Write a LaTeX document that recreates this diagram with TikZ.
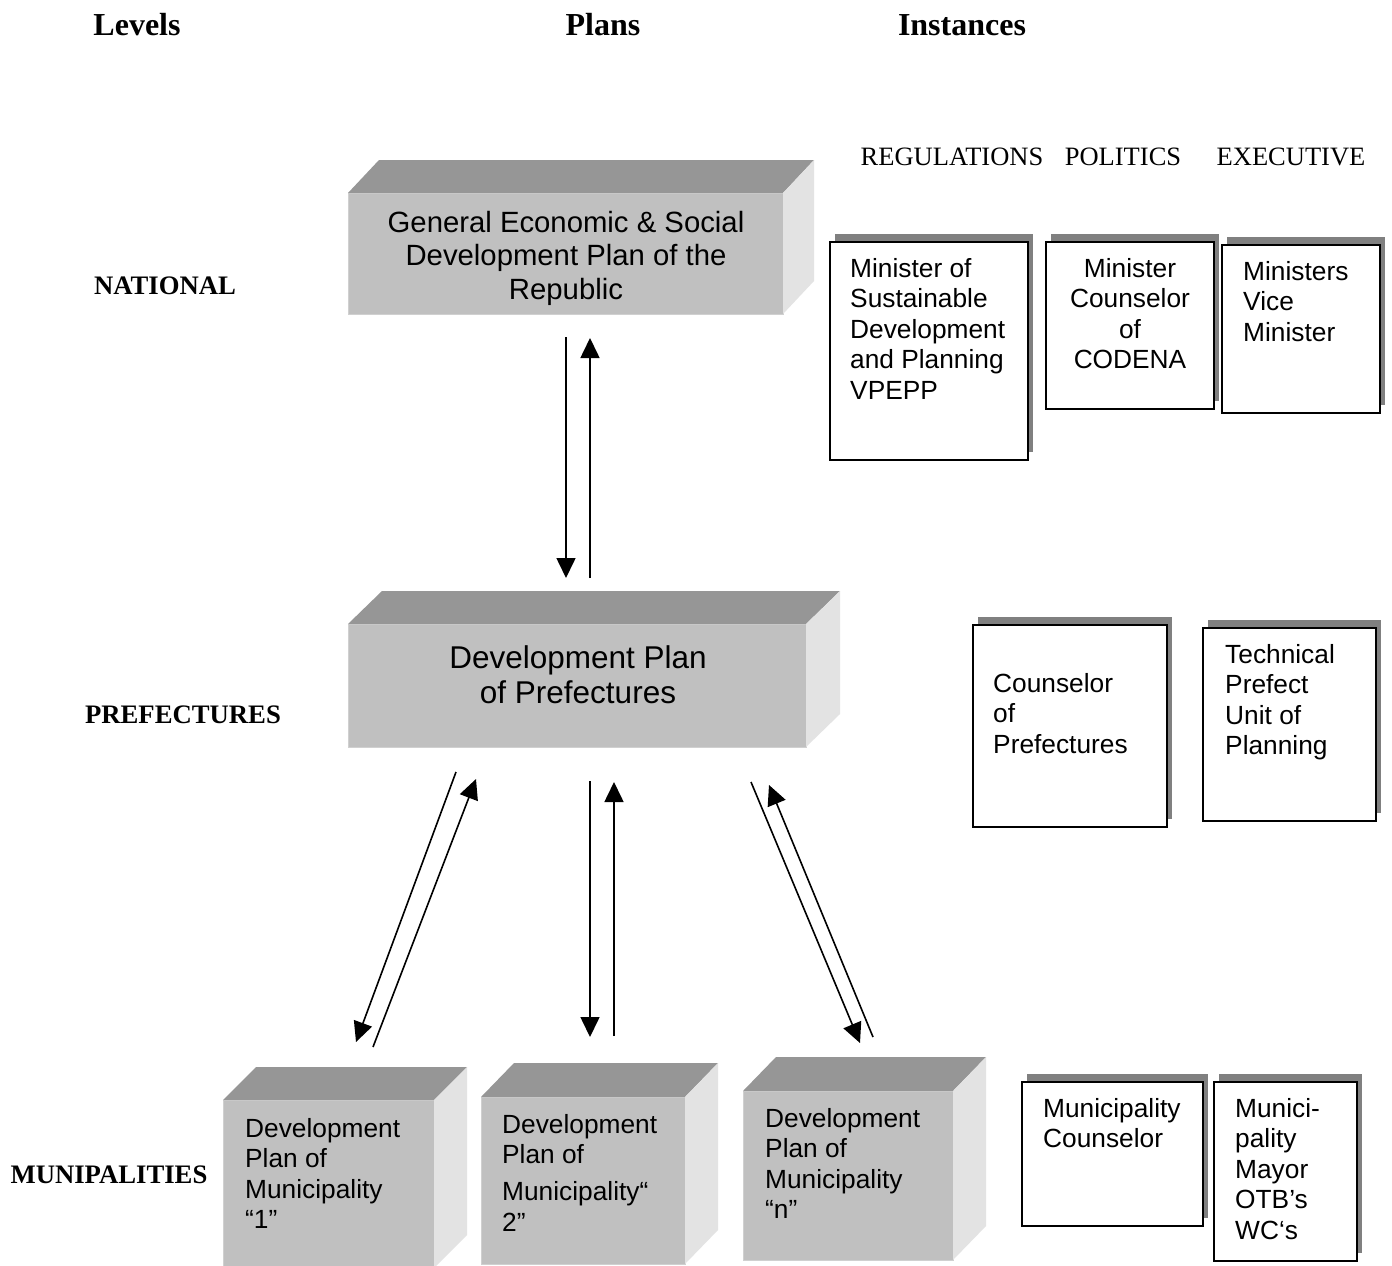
\documentclass[tikz,border=0pt]{standalone}
\usepackage{fontspec}
\setmainfont{Liberation Serif}
\newfontfamily\sansf{Liberation Sans}
\usetikzlibrary{arrows.meta,shadows}
\definecolor{frontc}{HTML}{C0C0C0}
\definecolor{topc}{HTML}{969696}
\definecolor{sidec}{HTML}{E3E3E3}
\definecolor{edgec}{HTML}{D0D0D0}
\definecolor{shadc}{HTML}{808080}
\newcommand\cubefaces[3]{%
  \fill[topface] (#1.north west) -- ++(#2,-#3) -- ([shift={(#2,-#3)}]#1.north east) -- (#1.north east) -- cycle;
  \fill[sideface] (#1.north east) -- ++(#2,-#3) -- ([shift={(#2,-#3)}]#1.south east) -- (#1.south east) -- cycle;
}
\begin{document}
\begin{tikzpicture}[x=1pt,y=-1pt,
  front/.style={fill=frontc, draw=edgec, line width=1pt, inner sep=0pt, outer sep=0pt, anchor=north west},
  topface/.style={fill=topc},
  sideface/.style={fill=sidec},
  ibox/.style={draw=black, line width=1.6pt, fill=white, inner sep=0pt, outer sep=0pt, anchor=north west,
    drop shadow={shadow xshift=5pt, shadow yshift=8pt, fill=shadc, opacity=1}},
  head/.style={font=\fontsize{32}{36}\selectfont\bfseries, anchor=base, inner sep=0pt},
  level/.style={font=\fontsize{26.7}{30}\selectfont\bfseries, anchor=base, inner sep=0pt},
  kind/.style={font=\fontsize{26.5}{30}\selectfont, anchor=base, inner sep=0pt},
  itext/.style={font=\sansf\fontsize{26.3}{30.5}\selectfont, anchor=base west, inner sep=0pt},
  ctext/.style={font=\sansf\fontsize{26.3}{30.5}\selectfont, anchor=base, inner sep=0pt},
  arr/.style={line width=1.6pt, -{Triangle[length=20pt,width=19pt]}},
]
\useasboundingbox (0,0) rectangle (1392,1266);
\fill[white] (0,0) rectangle (1392,1266);

% headers
\node[head] (hlev) at (137,35) {Levels};
\node[head] (hplan) at (603,35) {Plans};
\node[head] (hinst) at (962,35) {Instances};

\node[level] (lnat) at (165,294) {NATIONAL};
\node[level] (lpref) at (183,723) {PREFECTURES};
\node[level] (lmun) at (109,1183) {MUNIPALITIES};

\node[kind] (kreg) at (952,165) {REGULATIONS};
\node[kind] (kpol) at (1123,165) {POLITICS};
\node[kind] (kexe) at (1291,165) {EXECUTIVE};

% 3D plan boxes
\node[front, minimum width=435pt, minimum height=121pt] (nat) at (348,193) {};
\cubefaces{nat}{31}{33}
\node[anchor=base, inner sep=0pt, font=\sansf\fontsize{29.3}{33.5}\selectfont] (nattxt) at (566,232)
  {\parbox[t]{430pt}{\centering General Economic \& Social\\Development Plan of the\\Republic}};

\node[front, minimum width=458pt, minimum height=123pt] (pref) at (348,624) {};
\cubefaces{pref}{34}{33}
\node[anchor=base, inner sep=0pt, font=\sansf\fontsize{31.5}{35}\selectfont] (preftxt) at (578,668)
  {\parbox[t]{440pt}{\centering Development Plan\\of Prefectures}};

\node[front, minimum width=211pt, minimum height=168pt] (m1) at (223,1100) {};
\cubefaces{m1}{33}{33}
\node[itext] (m1txt) at (245,1137) {\parbox[t]{190pt}{\raggedright Development\\Plan of\\Municipality\\“1”}};

\node[front, minimum width=204pt, minimum height=167pt] (m2) at (481,1097) {};
\cubefaces{m2}{33}{34}
\node[itext] (m2txt) at (502,1133) {\parbox[t]{190pt}{\raggedright Development\\Plan of\\[6.5pt]Municipality“\\2”}};

\node[front, minimum width=210pt, minimum height=169pt] (m3) at (743,1091) {};
\cubefaces{m3}{33}{34}
\node[itext] (m3txt) at (765,1127) {\parbox[t]{190pt}{\raggedright Development\\Plan of\\Municipality\\“n”}};

% instance boxes
\node[ibox, minimum width=198pt, minimum height=218pt] (vpepp) at (830,242) {};
\node[itext] (vpepptxt) at (850,277) {\parbox[t]{180pt}{\raggedright Minister of\\Sustainable\\Development\\and Planning\\VPEPP}};

\node[ibox, minimum width=168pt, minimum height=167pt] (codena) at (1046,242) {};
\node[ctext] (codenatxt) at (1130,277) {\parbox[t]{160pt}{\centering Minister\\Counselor\\of\\CODENA}};

\node[ibox, minimum width=158pt, minimum height=168pt] (exec) at (1222,245) {};
\node[itext] (exectxt) at (1243,280) {\parbox[t]{140pt}{\raggedright Ministers\\Vice\\Minister}};

\node[ibox, minimum width=194pt, minimum height=202pt] (cpref) at (973,625) {};
\node[itext] (cpreftxt) at (993,692) {\parbox[t]{170pt}{\raggedright Counselor\\of\\Prefectures}};

\node[ibox, minimum width=173pt, minimum height=193pt] (tech) at (1203,628) {};
\node[itext] (techtxt) at (1225,663) {\parbox[t]{150pt}{\raggedright Technical\\Prefect\\Unit of\\Planning}};

\node[ibox, minimum width=181pt, minimum height=144pt] (mcoun) at (1022,1082) {};
\node[itext] (mcountxt) at (1043,1117) {\parbox[t]{160pt}{\raggedright Municipality\\Counselor}};

\node[ibox, minimum width=143pt, minimum height=179pt] (mayor) at (1214,1082) {};
\node[itext] (mayortxt) at (1235,1117) {\parbox[t]{120pt}{\raggedright Munici-\\pality\\Mayor\\OTB’s\\WC‘s}};

% arrow end points
\coordinate (a1s) at (566,337); \coordinate (a1e) at (566,578);
\coordinate (a2s) at (590,578); \coordinate (a2e) at (590,338);
\coordinate (b1s) at (456,772); \coordinate (b1e) at (356,1042);
\coordinate (b2s) at (373,1047); \coordinate (b2e) at (476,779);
\coordinate (c1s) at (590,781); \coordinate (c1e) at (590,1037);
\coordinate (c2s) at (614,1036); \coordinate (c2e) at (614,782);
\coordinate (d1s) at (751,782); \coordinate (d1e) at (860,1043);
\coordinate (d2s) at (873,1037); \coordinate (d2e) at (769,785);

\draw[arr] (a1s) -- (a1e);
\draw[arr] (a2s) -- (a2e);
\draw[arr] (b1s) -- (b1e);
\draw[arr] (b2s) -- (b2e);
\draw[arr] (c1s) -- (c1e);
\draw[arr] (c2s) -- (c2e);
\draw[arr] (d1s) -- (d1e);
\draw[arr] (d2s) -- (d2e);
\end{tikzpicture}
\end{document}
